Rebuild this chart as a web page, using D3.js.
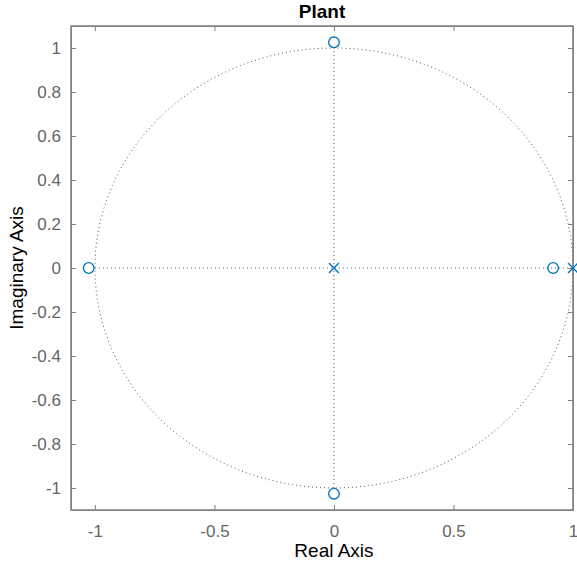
<!DOCTYPE html>
<html>
<head>
<meta charset="utf-8">
<script src="https://cdn.jsdelivr.net/npm/d3@7"></script>
<style>
  body { margin: 0; background: #fff; }
  text { font-family: "Liberation Sans", Arial, sans-serif; }
</style>
</head>
<body>
<div class="plot"></div>
<script>
var xTicks = [-1, -0.5, 0, 0.5, 1];
var yTicks = [-1, -0.8, -0.6, -0.4, -0.2, 0, 0.2, 0.4, 0.6, 0.8, 1];
var zeros = [[-1.026, 0], [0, 1.026], [0, -1.026], [0.917, 0]];
var poles = [[0, 0], [1, 0]];

var width = 577, height = 563;
var mLeft = 71, mRight = 573, mTop = 26, mBottom = 510;
var blue = "#0072BD";
var axisColor = "#808080";

var svg = d3.select('.plot')
    .append('svg')
    .attr('width', width)
    .attr('height', height);

var x = d3.scaleLinear().domain([-1.1, 1]).range([mLeft, mRight]);
var y = d3.scaleLinear().domain([-1.1, 1.1]).range([mBottom, mTop]);
var fmt = d => String(d);

// unit circle and axis grid lines
var circ = d3.range(0, 361, 2).map(function (a) {
    var t = a * Math.PI / 180;
    return [Math.cos(t), Math.sin(t)];
});
var line = d3.line().x(d => x(d[0])).y(d => y(d[1]));

svg.append("path")
    .attr("d", line(circ))
    .attr("fill", "none")
    .attr("stroke", "#555")
    .attr("stroke-width", 1)
    .attr("stroke-dasharray", "1,3");

svg.append("line")
    .attr("x1", x(-1)).attr("x2", x(1))
    .attr("y1", y(0)).attr("y2", y(0))
    .attr("stroke", "#555")
    .attr("stroke-dasharray", "1,3");

svg.append("line")
    .attr("x1", x(0)).attr("x2", x(0))
    .attr("y1", y(-1)).attr("y2", y(1))
    .attr("stroke", "#555")
    .attr("stroke-dasharray", "1,3");

// axes
var axisB = svg.append("g")
    .attr("transform", "translate(0," + mBottom + ")")
    .call(d3.axisBottom(x).tickValues(xTicks).tickSizeInner(-5).tickSizeOuter(0).tickPadding(15).tickFormat(fmt));
var axisT = svg.append("g")
    .attr("transform", "translate(0," + mTop + ")")
    .call(d3.axisTop(x).tickValues(xTicks).tickSizeInner(-5).tickSizeOuter(0).tickFormat(""));
var axisL = svg.append("g")
    .attr("transform", "translate(" + mLeft + ",0)")
    .call(d3.axisLeft(y).tickValues(yTicks).tickSizeInner(-5).tickSizeOuter(0).tickPadding(10).tickFormat(fmt));
var axisR = svg.append("g")
    .attr("transform", "translate(" + mRight + ",0)")
    .call(d3.axisRight(y).tickValues(yTicks).tickSizeInner(-5).tickSizeOuter(0).tickFormat(""));

[axisB, axisT, axisL, axisR].forEach(function (g) {
    g.selectAll("path, line").attr("stroke", axisColor);
    g.selectAll("text").attr("fill", "#666").style("font-size", "17px");
});

svg.append("rect")
    .attr("x", mLeft).attr("y", mTop)
    .attr("width", mRight - mLeft).attr("height", mBottom - mTop)
    .attr("fill", "none")
    .attr("stroke", axisColor)
    .attr("stroke-width", 1.5);

// zeros
svg.selectAll(".zero")
    .data(zeros)
    .enter()
    .append("circle")
    .attr("class", "zero")
    .attr("cx", d => x(d[0]))
    .attr("cy", d => y(d[1]))
    .attr("r", 5.3)
    .attr("fill", "none")
    .attr("stroke", blue)
    .attr("stroke-width", 1.3);

// poles
var s = 5;
svg.selectAll(".pole")
    .data(poles)
    .enter()
    .append("path")
    .attr("class", "pole")
    .attr("d", function (d) {
        var cx = x(d[0]), cy = y(d[1]);
        return "M" + (cx - s) + "," + (cy - s) + "L" + (cx + s) + "," + (cy + s) +
            "M" + (cx - s) + "," + (cy + s) + "L" + (cx + s) + "," + (cy - s);
    })
    .attr("stroke", blue)
    .attr("stroke-width", 1.3);

// labels
svg.append("text")
    .attr("x", (mLeft + mRight) / 2)
    .attr("y", 18)
    .style("text-anchor", "middle")
    .style("font-weight", "bold")
    .style("font-size", "19px")
    .text("Plant");

svg.append("text")
    .attr("x", x(0))
    .attr("y", 557)
    .style("text-anchor", "middle")
    .style("font-size", "19px")
    .text("Real Axis");

svg.append("text")
    .attr("transform", "translate(23," + ((mTop + mBottom) / 2) + ") rotate(-90)")
    .style("text-anchor", "middle")
    .style("font-size", "19px")
    .text("Imaginary Axis");
</script>
</body>
</html>
